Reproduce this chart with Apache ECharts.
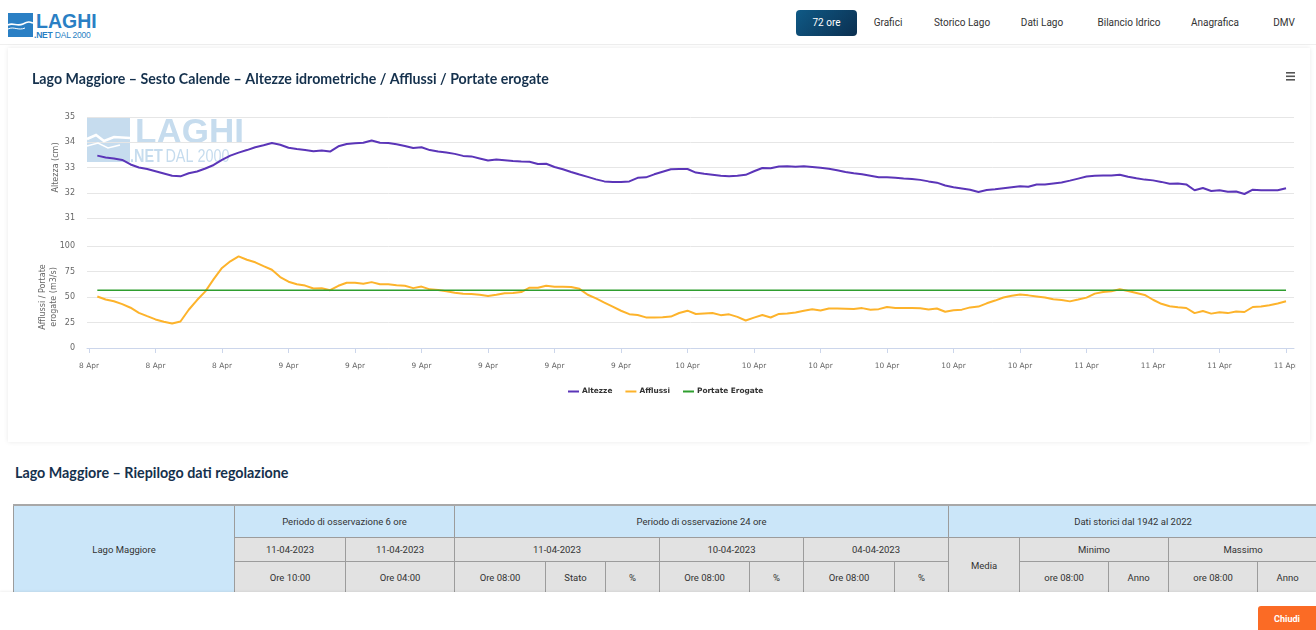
<!DOCTYPE html>
<html>
<head>
<meta charset="utf-8">
<script src="https://cdn.jsdelivr.net/npm/echarts@6/dist/echarts.min.js"></script>
<style>
html,body{margin:0;padding:0;width:1316px;height:630px;overflow:hidden;background:#fff;font-family:Roboto,"Liberation Sans",sans-serif;}
.header{position:absolute;left:0;top:0;width:1316px;height:44px;border-bottom:1px solid #efefef;background:#fff;}
.nav{position:absolute;top:22px;transform:translate(-50%,-50%);font-size:10px;color:#333;white-space:nowrap;}
.btn72{position:absolute;left:796px;top:10px;width:61px;height:26px;border-radius:4px;background:linear-gradient(135deg,#0f5a86,#0b2f50);color:#fff;font-size:10px;line-height:26px;text-align:center;}
.card{position:absolute;left:8px;top:48px;width:1302px;height:394px;background:#fff;box-shadow:0 0 5px rgba(0,0,0,0.09);}
.clip{position:absolute;left:0;top:0;width:1288px;height:394px;overflow:hidden;}
#chart{position:absolute;left:0;top:0;width:1302px;height:394px;}
.sec{position:absolute;left:15px;top:464px;font-family:Lato,sans-serif;font-weight:bold;font-size:14.3px;color:#15314d;}
table{position:absolute;left:13px;top:504px;border-collapse:collapse;table-layout:fixed;width:1304px;font-size:9.5px;color:#333;}
td{border:1px solid #9c9c9c;text-align:center;padding:0;background:#e2e2e2;white-space:nowrap;overflow:hidden;}
td.b{background:#cbe6f9;}
tr.r1 td{height:31px;border-top:2px solid #a8a8a8;}
tr.r2 td{height:23px;}
tr.r3 td{height:31px;}
.footer{position:absolute;left:0;top:592px;width:1316px;height:38px;background:#fff;box-shadow:0 -1px 2px rgba(0,0,0,0.06);}
.chiudi{position:absolute;left:1258px;top:14px;width:58px;height:24px;background:#fb6b25;color:#fff;font-weight:bold;font-size:9px;line-height:26px;text-align:center;border-radius:3px 0 0 0;}
</style>
</head>
<body>
<div class="header">
  <svg style="position:absolute;left:8px;top:10px" width="100" height="30" viewBox="0 0 100 30">
    <rect x="0" y="3" width="25" height="24" fill="#2a7fc4"/>
    <path d="M0 15 C5 12,9 17,15 14 S22 12,25 13" stroke="#fff" stroke-width="1.6" fill="none"/>
    <path d="M0 19 C6 16,10 21,17 18" stroke="#fff" stroke-width="1" fill="none"/>
    <text x="28" y="17.5" font-family="Liberation Sans" font-weight="bold" font-size="19.5" fill="#2a7fc4">LAGHI</text>
    <text x="26" y="27.5" font-family="Liberation Sans" font-size="8.5" fill="#2a7fc4" letter-spacing="-0.2"><tspan font-weight="bold">.NET</tspan> DAL 2000</text>
  </svg>
  <div class="btn72">72 ore</div>
  <div class="nav" style="left:888px">Grafici</div>
  <div class="nav" style="left:962px">Storico Lago</div>
  <div class="nav" style="left:1042px">Dati Lago</div>
  <div class="nav" style="left:1129px">Bilancio Idrico</div>
  <div class="nav" style="left:1215px">Anagrafica</div>
  <div class="nav" style="left:1284px">DMV</div>
</div>

<div class="card"><div class="clip"><div id="chart"></div></div></div>

<div class="sec">Lago Maggiore – Riepilogo dati regolazione</div>

<table>
  <colgroup>
    <col style="width:221px"><col style="width:111px"><col style="width:109px"><col style="width:91px"><col style="width:60px"><col style="width:54px"><col style="width:90px"><col style="width:54px"><col style="width:91px"><col style="width:54px"><col style="width:71px"><col style="width:89px"><col style="width:60px"><col style="width:89px"><col style="width:60px">
  </colgroup>
  <tr class="r1"><td class="b" rowspan="3">Lago Maggiore</td><td class="b" colspan="2">Periodo di osservazione 6 ore</td><td class="b" colspan="7">Periodo di osservazione 24 ore</td><td class="b" colspan="5">Dati storici dal 1942 al 2022</td></tr>
  <tr class="r2"><td>11-04-2023</td><td>11-04-2023</td><td colspan="3">11-04-2023</td><td colspan="2">10-04-2023</td><td colspan="2">04-04-2023</td><td rowspan="2">Media</td><td colspan="2">Minimo</td><td colspan="2">Massimo</td></tr>
  <tr class="r3"><td>Ore 10:00</td><td>Ore 04:00</td><td>Ore 08:00</td><td>Stato</td><td>%</td><td>Ore 08:00</td><td>%</td><td>Ore 08:00</td><td>%</td><td>ore 08:00</td><td>Anno</td><td>ore 08:00</td><td>Anno</td></tr>
</table>

<div class="footer"><div class="chiudi">Chiudi</div></div>

<script>
// Hours counted from 8 Apr 12:00; one reading every half hour
const startHour = 0.5;
const stepHour = 0.5;

const altezze = [
 33.47,33.40,33.36,33.30,33.12,33.00,32.94,32.85,32.76,32.67,
 32.65,32.77,32.84,32.96,33.10,33.30,33.47,33.59,33.69,33.80,
 33.88,33.97,33.90,33.78,33.73,33.69,33.64,33.67,33.63,33.84,
 33.93,33.96,33.98,34.07,33.98,33.97,33.92,33.85,33.77,33.80,
 33.69,33.63,33.59,33.54,33.46,33.44,33.36,33.28,33.32,33.29,
 33.26,33.24,33.23,33.14,33.15,33.02,32.93,32.82,32.72,32.63,
 32.53,32.45,32.43,32.43,32.45,32.59,32.61,32.73,32.83,32.93,
 32.94,32.94,32.80,32.75,32.71,32.67,32.65,32.67,32.71,32.85,
 32.98,32.97,33.04,33.05,33.03,33.05,33.02,32.99,32.95,32.89,
 32.82,32.77,32.73,32.67,32.61,32.61,32.59,32.56,32.54,32.51,
 32.45,32.40,32.29,32.22,32.17,32.12,32.03,32.11,32.14,32.18,
 32.22,32.26,32.24,32.33,32.33,32.37,32.41,32.48,32.56,32.64,
 32.67,32.68,32.68,32.71,32.63,32.57,32.52,32.49,32.43,32.36,
 32.37,32.33,32.10,32.19,32.07,32.10,32.04,32.05,31.95,32.12,
 32.10,32.10,32.10,32.18
];

const afflussi = [
 50.5,47.5,45.8,43.0,39.5,34.5,31.2,28.0,25.8,24.0,
 26.0,37.5,47.0,55.5,67.5,78.5,85.0,89.8,86.5,84.0,
 80.3,76.7,69.5,65.0,62.5,61.2,58.3,58.5,56.7,61.0,
 64.0,64.0,63.0,64.6,62.5,62.4,61.6,61.0,58.7,60.2,
 57.5,56.9,55.6,54.2,53.1,52.9,52.3,51.0,52.3,53.7,
 53.9,54.8,59.1,59.1,61.0,60.0,60.0,59.9,58.0,52.2,
 48.6,44.5,40.5,36.5,33.2,32.4,30.0,30.0,30.2,30.8,
 34.3,36.6,33.3,33.8,34.3,32.2,33.0,30.5,27.0,29.8,
 32.3,29.9,33.4,33.9,34.9,36.6,38.0,36.8,38.8,38.7,
 38.5,38.3,39.1,37.6,38.1,40.2,39.3,39.2,39.2,39.0,
 37.8,38.7,35.5,37.0,37.6,39.8,40.6,43.8,46.5,49.5,
 51.3,52.5,51.6,50.6,49.6,47.8,47.1,45.7,47.5,49.4,
 53.3,55.0,55.7,57.5,55.8,54.0,52.0,47.3,43.3,40.9,
 40.0,39.2,34.2,36.2,33.7,35.0,34.2,35.8,35.3,40.2,
 40.7,42.0,43.7,45.8
];

const portateErogate = 56.5;

const tickHours = [0,4,8,12,16,20,24,28,32,36,40,44,48,52,56,60,64,68,72];
const tickLabels = ['8 Apr','8 Apr','8 Apr','9 Apr','9 Apr','9 Apr','9 Apr','9 Apr','9 Apr',
  '10 Apr','10 Apr','10 Apr','10 Apr','10 Apr','10 Apr','11 Apr','11 Apr','11 Apr','11 Apr'];

const seriesNames = ['Altezze','Afflussi','Portate Erogate'];
const chartTitle = 'Lago Maggiore – Sesto Calende – Altezze idrometriche / Afflussi / Portate erogate';
const yName1 = 'Altezza (cm)';
const yName2 = 'Afflussi / Portate\nerogate (m3/s)';

const times = altezze.map((_, i) => startHour + i * stepHour);
const altData = times.map((t, i) => [t, altezze[i]]);
const affData = times.map((t, i) => [t, afflussi[i]]);
const porData = [[times[0], portateErogate], [times[times.length - 1], portateErogate]];

const FONT = 'DejaVu Sans';
const xMin = -0.12, xMax = 72.48;
const wm = '#c6dcee';

const chart = echarts.init(document.getElementById('chart'), null, {renderer: 'canvas'});
chart.setOption({
  animation: false,
  title: {
    text: chartTitle, left: 24, top: 24, padding: 0,
    textStyle: {fontFamily: 'Lato', fontWeight: 'bold', fontSize: 14.2, color: '#15314d'}
  },
  legend: {
    data: seriesNames, left: 555, top: 335, itemGap: 13, itemWidth: 11, itemHeight: 2, icon: 'rect',
    textStyle: {fontFamily: FONT, fontWeight: 'bold', fontSize: 7.4, color: '#333', padding: [0, 0, 0, -2]}
  },
  graphic: [
    {type: 'rect', left: 79, top: 70, shape: {width: 43, height: 44}, style: {fill: wm}, z: 0, silent: true},
    {type: 'polyline', shape: {points: [[79, 91], [88, 87], [96, 93], [106, 89], [122, 90]]}, style: {stroke: '#fff', lineWidth: 2.5, fill: null}, z: 1, silent: true},
    {type: 'polyline', shape: {points: [[79, 98], [90, 95], [100, 100], [112, 97]]}, style: {stroke: '#fff', lineWidth: 1.5, fill: null}, z: 1, silent: true},
    {type: 'text', x: 127, y: 68, style: {text: 'LAGHI', font: 'bold 35px "Liberation Sans"', fill: wm}, z: 0, silent: true},
    {type: 'text', x: 122, y: 100, scaleX: 0.8, style: {text: '{b|.NET} {n|DAL 2000}', rich: {b: {font: 'bold 18px "Liberation Sans"', fill: wm}, n: {font: '18px "Liberation Sans"', fill: wm}}}, z: 0, silent: true},
    {type: 'rect', left: 1278, top: 24, shape: {width: 9, height: 1.6}, style: {fill: '#555'}, silent: true},
    {type: 'rect', left: 1278, top: 27.5, shape: {width: 9, height: 1.6}, style: {fill: '#555'}, silent: true},
    {type: 'rect', left: 1278, top: 31, shape: {width: 9, height: 1.6}, style: {fill: '#555'}, silent: true}
  ],
  grid: [
    {left: 79, top: 69, width: 1207, height: 101},
    {left: 79, top: 198, width: 1207, height: 102}
  ],
  xAxis: [
    {gridIndex: 0, type: 'value', min: xMin, max: xMax, show: false},
    {gridIndex: 1, type: 'value', min: xMin, max: xMax, offset: 9,
      axisLine: {lineStyle: {color: '#ccd6eb'}},
      axisTick: {customValues: tickHours, length: 5, lineStyle: {color: '#ccd6eb'}},
      axisLabel: {customValues: tickHours, fontFamily: FONT, fontSize: 7.4, color: '#666', margin: 6,
        hideOverlap: false,
        formatter: v => tickLabels[tickHours.indexOf(v)] || ''},
      splitLine: {show: false}}
  ],
  yAxis: [
    {gridIndex: 0, type: 'value', min: 31, max: 35, interval: 1,
      name: yName1, nameLocation: 'middle', nameGap: 27, nameRotate: 90, nameMoveOverlap: false,
      nameTextStyle: {fontFamily: FONT, fontSize: 8, color: '#666'},
      axisLabel: {fontFamily: FONT, fontSize: 8, color: '#666', margin: 12},
      axisLine: {show: false}, axisTick: {show: false},
      splitLine: {lineStyle: {color: '#e6e6e6'}}},
    {gridIndex: 1, type: 'value', min: 0, max: 100, interval: 25,
      name: yName2, nameLocation: 'middle', nameGap: 27.5, nameRotate: 90, nameMoveOverlap: false,
      nameTextStyle: {fontFamily: FONT, fontSize: 8, color: '#666', lineHeight: 11},
      axisLabel: {fontFamily: FONT, fontSize: 8, color: '#666', margin: 12},
      axisLine: {show: false}, axisTick: {show: false},
      splitLine: {lineStyle: {color: '#e6e6e6'}}}
  ],
  series: [
    {name: seriesNames[0], type: 'line', xAxisIndex: 0, yAxisIndex: 0, data: altData, showSymbol: false,
      lineStyle: {width: 2, color: '#5b35b8'}, itemStyle: {color: '#5b35b8'}, z: 3},
    {name: seriesNames[1], type: 'line', xAxisIndex: 1, yAxisIndex: 1, data: affData, showSymbol: false,
      lineStyle: {width: 2, color: '#fdb32b'}, itemStyle: {color: '#fdb32b'}, z: 3},
    {name: seriesNames[2], type: 'line', xAxisIndex: 1, yAxisIndex: 1, data: porData, showSymbol: false,
      lineStyle: {width: 1.5, color: '#2f9e2f'}, itemStyle: {color: '#2f9e2f'}, z: 3}
  ]
});
</script>
</body>
</html>
